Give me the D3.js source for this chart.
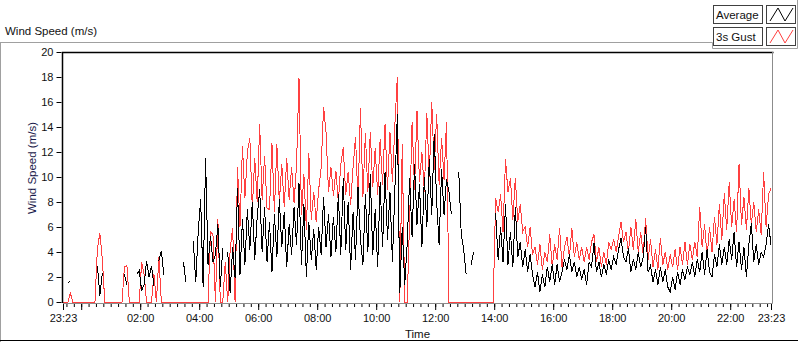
<!DOCTYPE html>
<html>
<head>
<meta charset="utf-8">
<script src="https://cdn.jsdelivr.net/npm/d3@7"></script>
<style>
  body { margin: 0; background: #fff; }
  svg { display: block; font-family: "Liberation Sans", Arial, sans-serif; }
  .tick text { font-size: 11px; fill: #111; }
</style>
</head>
<body>
<script>
var width = 800;
var height = 342;
var plotLeft = 62, plotRight = 773, plotTop = 52, plotBottom = 302;

// samples every 5 minutes, starting 23:23
var stepMinutes = 5;
var seriesNames = ["Average", "3s Gust"];
var seriesColors = ["#000000", "#ff4040"];
var yTicks = [0, 2, 4, 6, 8, 10, 12, 14, 16, 18, 20];

var gust = [
  0,0,0,0.7,0,0,0,0,0,0,
  0,0,0,0,4.3,5.5,3.4,0,0,0,
  0,0,0,0,0,2.8,2.9,0,0,0,
  0,0,3.2,2.2,0,0,0,2.2,0,3.6,
  0,0,0,0,0,0,0,0,0,0,
  0,0,0,0,0,0,0,0,0,0,
  5.6,5.4,0,6.6,0,0,3.2,0,4.2,5.9,
  0,10.8,6.0,12.5,8.3,12.0,13.1,7.5,11.5,8.0,
  14.2,8.2,11.7,7.5,7.4,12.7,7.2,12.6,8.0,11.0,
  7.6,11.5,8.2,10.8,7.9,11.0,17.9,7.0,10.2,5.8,
  11.9,6.6,8.8,6.4,9.0,10.7,15.6,13.6,8.8,10.8,
  8.5,10.5,8.0,11.0,12.4,8.6,10.4,7.8,10.8,13.2,
  8.0,15.5,8.4,13.5,8.8,13.6,9.2,12.3,8.6,13.0,
  9.4,14.2,9.0,13.6,9.6,14.2,18.0,0,12.6,0,
  0,6.6,14.4,9.0,15.3,9.6,12.0,8.8,15.1,10.0,
  16.0,10.6,15.0,9.4,13.1,9.8,14.4,0,0,0,
  0,0,0,0,0,0,0,0,0,0,
  0,0,0,0,0,0,8.3,7.2,8.6,5.6,
  11.4,8.8,9.9,6.6,9.9,6.4,7.8,5.6,6.0,4.4,
  6.0,3.8,4.4,3.0,4.6,2.6,4.0,3.2,5.4,2.8,
  4.6,3.4,5.9,2.8,4.4,5.2,3.6,5.9,3.6,4.8,
  3.4,4.4,3.2,4.4,3.4,4.8,5.4,3.2,4.4,2.8,
  4.0,3.0,4.8,4.2,5.0,4.0,5.2,6.4,4.8,5.6,
  4.0,6.0,4.2,6.6,4.0,5.6,3.8,6.7,3.4,5.0,
  2.8,4.2,2.6,5.1,3.0,4.0,2.6,3.8,2.8,4.2,
  2.6,4.4,3.0,4.8,3.0,4.6,3.4,4.8,3.6,7.6,
  4.4,6.2,3.6,6.0,4.0,6.8,4.6,7.8,5.0,8.7,
  5.8,9.6,6.0,8.2,5.6,11.0,6.2,8.4,5.8,9.1,
  6.2,8.0,5.6,7.4,5.4,10.4,6.0,8.6,9.1
];

var average = [
  null,null,1.5,1.7,null,null,null,null,null,null,
  null,null,null,null,2.9,0.5,2.3,null,null,null,
  null,null,null,null,null,2.2,1.4,null,null,null,
  2.2,2.5,0.9,1.4,3.3,2.0,2.9,1.3,null,3.3,
  4.1,2.2,null,null,null,null,null,null,null,3.2,
  1.6,null,null,4.9,1.6,5.6,8.2,1.2,11.5,3.0,
  5.3,3.2,3.8,6.2,1.2,4.3,null,4.0,0.7,4.4,
  1.9,9.1,2.2,6.6,3.0,7.4,4.2,8.0,3.4,6.8,
  9.0,4.0,7.6,3.2,6.4,2.4,7.0,3.6,8.2,4.4,
  7.2,2.8,6.2,3.8,7.6,4.6,9.5,3.0,7.8,2.0,
  6.4,3.4,5.8,2.6,6.0,3.8,8.4,4.4,7.0,3.6,
  6.8,4.0,8.6,3.8,9.9,4.2,8.0,2.6,7.2,3.4,
  9.2,5.0,3.0,8.6,4.0,10.2,3.8,7.4,2.8,9.6,
  4.4,10.4,5.0,8.8,3.2,9.0,15.0,0.7,6.0,1.4,
  4.6,9.9,5.2,11.0,6.2,9.4,4.4,10.0,6.0,11.4,
  7.0,13.4,8.0,4.6,10.6,7.0,9.8,8.8,7.0,null,
  null,10.4,5.4,4.2,2.2,null,3.0,4.0,null,null,
  null,null,null,null,null,null,7.1,3.4,6.0,3.2,
  7.8,3.0,5.6,2.8,7.6,3.6,4.8,2.8,4.2,2.4,
  3.8,2.2,1.2,2.4,0.8,2.2,1.2,2.8,1.6,3.0,
  1.4,3.0,1.6,2.4,3.4,2.6,3.8,2.4,3.2,2.0,
  2.8,1.8,2.6,1.4,3.2,2.8,4.7,2.4,3.2,2.0,
  3.0,2.2,3.4,2.6,3.6,3.0,4.2,5.1,3.6,3.2,
  4.3,2.4,3.4,2.6,4.0,2.8,3.6,6.0,2.4,2.9,
  1.6,2.6,1.4,2.8,1.6,2.6,1.2,0.8,2.0,1.0,
  2.4,1.4,2.6,1.8,2.8,2.2,3.2,2.0,3.4,2.4,
  4.0,2.2,4.2,2.4,2.0,3.8,2.8,4.6,3.0,4.4,
  3.0,5.0,3.4,5.6,2.8,4.8,2.6,4.4,2.0,4.6,
  6.3,3.2,4.6,3.0,4.0,3.6,4.6,6.2,4.6
];

var startTime = new Date(2020, 0, 1, 23, 23);
var endTime = d3.timeHour.offset(startTime, 24);

const SVG = d3.select("body")
              .append("svg")
              .attr("width", width)
              .attr("height", height);

// outer frame pieces
SVG.append("path")
   .attr("d", "M0,42.5H712.5V48.5H797.5V0")
   .attr("fill", "none")
   .attr("stroke", "#a0a0a0");
SVG.append("line")
   .attr("x1", 0.5).attr("x2", 0.5).attr("y1", 42).attr("y2", 342)
   .attr("stroke", "#a0a0a0");
SVG.append("line")
   .attr("x1", 0).attr("x2", 798).attr("y1", 340.5).attr("y2", 340.5)
   .attr("stroke", "#000");

SVG.append("text")
   .attr("x", 5)
   .attr("y", 35)
   .style("font-size", "11.5px")
   .attr("fill", "#111")
   .text("Wind Speed (m/s)");

var xScale = d3.scaleTime()
               .domain([startTime, endTime])
               .range([63, 771]);

var yScale = d3.scaleLinear()
               .domain([0, 20])
               .range([302, 52]);

// plot area
SVG.append("rect")
   .attr("x", plotLeft).attr("y", plotTop)
   .attr("width", plotRight - plotLeft).attr("height", plotBottom - plotTop)
   .attr("fill", "#fff");

var line = d3.line()
             .defined((d) => d.v !== null)
             .x((d) => xScale(d.t))
             .y((d) => yScale(d.v));

function toPoints(arr){
  return arr.map(function(v, i){
    return {t: d3.timeMinute.offset(startTime, i * stepMinutes), v: v};
  });
}

SVG.append("path")
   .datum(toPoints(gust))
   .attr("d", line)
   .attr("fill", "none")
   .attr("stroke", seriesColors[1])
   .attr("stroke-width", 1)
   .attr("shape-rendering", "crispEdges");

SVG.append("path")
   .datum(toPoints(average))
   .attr("d", line)
   .attr("fill", "none")
   .attr("stroke", seriesColors[0])
   .attr("stroke-width", 1)
   .attr("shape-rendering", "crispEdges");

// plot border: dark top/left, grey bottom/right
SVG.append("path")
   .attr("d", "M" + (plotLeft + 0.5) + "," + (plotBottom + 1) + "V" + (plotTop + 0.5) + "H" + (plotRight + 0.5))
   .attr("fill", "none")
   .attr("stroke", "#000")
   .attr("stroke-width", 1.5);
SVG.append("path")
   .attr("d", "M" + (plotLeft + 1) + "," + (plotBottom + 1.5) + "H" + (plotRight - 0.5) + "V" + plotTop)
   .attr("fill", "none")
   .attr("stroke", "#8c8c8c");

// y axis
var yAxis = d3.axisLeft(yScale)
              .tickValues(yTicks)
              .tickSize(5)
              .tickPadding(3);
SVG.append("g")
   .attr("transform", "translate(" + (plotLeft - 0.5) + ",0)")
   .call(yAxis)
   .call((g) => g.select(".domain").remove());

// x axis, minor ticks every 15 minutes
var minorAxis = d3.axisBottom(xScale)
                  .tickValues(d3.timeMinute.every(15).range(startTime, endTime))
                  .tickSize(3)
                  .tickFormat("");
SVG.append("g")
   .attr("transform", "translate(0," + (plotBottom + 2) + ")")
   .call(minorAxis)
   .call((g) => g.select(".domain").remove());

var majorTicks = [startTime].concat(d3.timeHour.every(2).range(startTime, endTime)).concat([endTime]);
var xAxis = d3.axisBottom(xScale)
              .tickValues(majorTicks)
              .tickSize(6)
              .tickPadding(4)
              .tickFormat(function(d){
                if (d.getHours() === 0 && d.getMinutes() === 0) return "";
                return d3.timeFormat("%H:%M")(d);
              });
SVG.append("g")
   .attr("transform", "translate(0," + (plotBottom + 2) + ")")
   .call(xAxis)
   .call((g) => g.select(".domain").remove());

SVG.append("text")
   .attr("x", (plotLeft + plotRight) / 2)
   .attr("y", 338)
   .attr("text-anchor", "middle")
   .style("font-size", "11.5px")
   .attr("fill", "#111")
   .text("Time");

SVG.append("text")
   .attr("transform", "translate(36,168) rotate(-90)")
   .attr("text-anchor", "middle")
   .style("font-size", "11.5px")
   .attr("fill", "#1b1b4b")
   .text("Wind Speed (m/s)");

// legend
var legend = SVG.selectAll(".legend")
                .data(seriesNames)
                .enter()
                .append("g")
                .attr("class", "legend")
                .attr("transform", (d, i) => "translate(713," + (5 + 22 * i) + ")");

legend.append("rect")
      .attr("x", 0.5).attr("y", 0.5)
      .attr("width", 49).attr("height", 18)
      .attr("fill", "#fff")
      .attr("stroke", "#404040");

legend.append("text")
      .attr("x", 3)
      .attr("y", 14)
      .style("font-size", "11.5px")
      .attr("fill", "#111")
      .text((d) => d);

legend.append("rect")
      .attr("x", 53.5).attr("y", 0.5)
      .attr("width", 29).attr("height", 18)
      .attr("fill", "#fff")
      .attr("stroke", "#404040");

legend.append("path")
      .attr("d", "M57,16L65,3L72,16L80,3")
      .attr("fill", "none")
      .attr("stroke", (d, i) => seriesColors[i]);
</script>
</body>
</html>
